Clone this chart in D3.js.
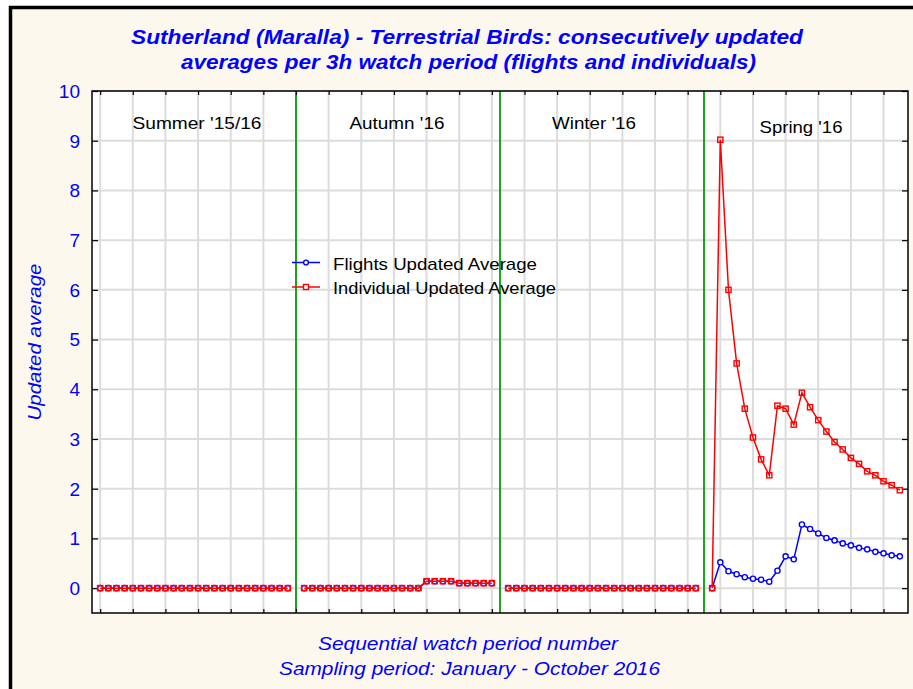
<!DOCTYPE html>
<html><head><meta charset="utf-8">
<script src="https://cdn.jsdelivr.net/npm/d3@7"></script>
<style>
html,body{margin:0;padding:0;background:#fff;}
text{font-family:"Liberation Sans",Arial,sans-serif;}
</style></head>
<body>
<svg id="chart" width="913" height="689"></svg>
<script>
// ---- data ----
const seasons = ["Summer '15/16", "Autumn '16", "Winter '16", "Spring '16"];
const flightsSummer = [0,0,0,0,0,0,0,0,0,0,0,0,0,0,0,0,0,0,0,0,0,0,0,0];
const individualsSummer = [0,0,0,0,0,0,0,0,0,0,0,0,0,0,0,0,0,0,0,0,0,0,0,0];
const flightsAutumn = [0,0,0,0,0,0,0,0,0,0,0,0,0,0,0,0.14,0.14,0.14,0.14,0.10,0.10,0.10,0.10,0.10];
const individualsAutumn = [0,0,0,0,0,0,0,0,0,0,0,0,0,0,0,0.14,0.14,0.14,0.14,0.10,0.10,0.10,0.10,0.10];
const flightsWinter = [0,0,0,0,0,0,0,0,0,0,0,0,0,0,0,0,0,0,0,0,0,0,0,0];
const individualsWinter = [0,0,0,0,0,0,0,0,0,0,0,0,0,0,0,0,0,0,0,0,0,0,0,0];
const flightsSpring = [0,0.52,0.34,0.28,0.22,0.19,0.17,0.13,0.35,0.64,0.58,1.28,1.19,1.10,1.01,0.96,0.90,0.86,0.81,0.78,0.73,0.70,0.66,0.64];
const individualsSpring = [0,9.02,6.0,4.52,3.61,3.03,2.59,2.27,3.67,3.61,3.29,3.93,3.64,3.38,3.15,2.94,2.79,2.62,2.50,2.35,2.27,2.15,2.07,1.97];
const yTicks = [0,1,2,3,4,5,6,7,8,9,10];
const xTicks = d3.range(0, 97, 4);
const seriesNames = ["Flights Updated Average", "Individual Updated Average"];

// build sequential series with a gap (season boundary) between seasons
function buildSeries(parts){
  const out = [];
  parts.forEach((arr, s) => {
    arr.forEach((v, i) => out.push({i: s*25 + i, v}));
    if (s < parts.length - 1) out.push({i: s*25 + 24, v: null});
  });
  return out;
}
const flights = buildSeries([flightsSummer, flightsAutumn, flightsWinter, flightsSpring]);
const individuals = buildSeries([individualsSummer, individualsAutumn, individualsWinter, individualsSpring]);
const boundaries = [24, 49, 74];

const svg = d3.select("#chart");
const L = 92, R = 908, T = 91, B = 613;
const x = d3.scaleLinear().domain([-1, 99]).range([L, R]);
const y = d3.scaleLinear().domain([-0.5, 10]).range([B, T]);

const BLUE = "#0000ff", RED = "#ff0000", GREEN = "#00a000";

// outer frame
svg.append("rect").attr("x", 10.5).attr("y", 7.5).attr("width", 960).attr("height", 760)
  .attr("fill", "#fdf8ee").attr("stroke", "#000").attr("stroke-width", 3.5);

// plot area
svg.append("rect").attr("x", L).attr("y", T).attr("width", R-L).attr("height", B-T).attr("fill", "#fff");

// grid
const grid = svg.append("g").attr("stroke", "#dcdcdc").attr("stroke-width", 2);
yTicks.forEach(t => grid.append("line").attr("x1", L).attr("x2", R).attr("y1", y(t)).attr("y2", y(t)));
xTicks.forEach(t => grid.append("line").attr("y1", T).attr("y2", B).attr("x1", x(t)).attr("x2", x(t)));

// season boundaries
boundaries.forEach(b => svg.append("line").attr("x1", x(b)).attr("x2", x(b)).attr("y1", T).attr("y2", B)
  .attr("stroke", GREEN).attr("stroke-width", 1.8));

// axes (inward ticks on all four sides)
svg.append("g").attr("transform", `translate(${L},0)`)
  .call(d3.axisRight(y).tickValues(yTicks).tickSize(6).tickFormat(""))
  .call(g => g.select(".domain").remove())
  .call(g => g.selectAll("line").attr("stroke", "#000").attr("stroke-width", 1.2));
svg.append("g").attr("transform", `translate(${R},0)`)
  .call(d3.axisLeft(y).tickValues(yTicks).tickSize(6).tickFormat(""))
  .call(g => g.select(".domain").remove())
  .call(g => g.selectAll("line").attr("stroke", "#000").attr("stroke-width", 1.2));
svg.append("g").attr("transform", `translate(0,${B})`)
  .call(d3.axisTop(x).tickValues(xTicks).tickSize(4).tickFormat(""))
  .call(g => g.select(".domain").remove())
  .call(g => g.selectAll("line").attr("stroke", "#000").attr("stroke-width", 1.2));
svg.append("g").attr("transform", `translate(0,${T})`)
  .call(d3.axisBottom(x).tickValues(xTicks).tickSize(4).tickFormat(""))
  .call(g => g.select(".domain").remove())
  .call(g => g.selectAll("line").attr("stroke", "#000").attr("stroke-width", 1.2));
svg.append("rect").attr("x", L).attr("y", T).attr("width", R-L).attr("height", B-T)
  .attr("fill", "none").attr("stroke", "#000").attr("stroke-width", 1.5);

// y tick labels
svg.append("g").selectAll("text").data(yTicks).join("text")
  .attr("x", 80).attr("y", d => y(d)).attr("dy", "0.36em").attr("text-anchor", "end")
  .attr("fill", BLUE).attr("font-size", 19).text(d => d);

// season labels
const seasonPos = [[197,129,129],[397,129,95],[594,129,84],[801,133,83]];
svg.append("g").selectAll("text").data(seasons).join("text")
  .attr("x", (d,i) => seasonPos[i][0]).attr("y", (d,i) => seasonPos[i][1])
  .attr("text-anchor", "middle").attr("font-size", 17).attr("fill", "#000")
  .attr("textLength", (d,i) => seasonPos[i][2]).attr("lengthAdjust", "spacingAndGlyphs")
  .text(d => d);

// lines
const line = d3.line().defined(d => d.v !== null).x(d => x(d.i)).y(d => y(d.v));
svg.append("path").datum(flights).attr("d", line).attr("fill", "none").attr("stroke", BLUE).attr("stroke-width", 1.5);
svg.append("g").selectAll("circle").data(flights.filter(d => d.v !== null)).join("circle")
  .attr("cx", d => x(d.i)).attr("cy", d => y(d.v)).attr("r", 2.6)
  .attr("fill", "#fff").attr("stroke", BLUE).attr("stroke-width", 1.4);
svg.append("path").datum(individuals).attr("d", line).attr("fill", "none").attr("stroke", RED).attr("stroke-width", 1.5);
svg.append("g").selectAll("rect").data(individuals.filter(d => d.v !== null)).join("rect")
  .attr("x", d => x(d.i) - 2.6).attr("y", d => y(d.v) - 2.6).attr("width", 5.2).attr("height", 5.2)
  .attr("fill", "none").attr("stroke", RED).attr("stroke-width", 1.4);

// legend
const legend = svg.append("g");
const legY = [262.5, 287];
const legW = [204, 223];
seriesNames.forEach((name, k) => {
  const col = k === 0 ? BLUE : RED;
  legend.append("line").attr("x1", 292).attr("x2", 320).attr("y1", legY[k]).attr("y2", legY[k])
    .attr("stroke", col).attr("stroke-width", 1.5);
  if (k === 0) legend.append("circle").attr("cx", 306).attr("cy", legY[k]).attr("r", 2.4)
    .attr("fill", "#fff").attr("stroke", col).attr("stroke-width", 1.4);
  else legend.append("rect").attr("x", 303.5).attr("y", legY[k]-2.5).attr("width", 5).attr("height", 5)
    .attr("fill", "#fff").attr("stroke", col).attr("stroke-width", 1.4);
  legend.append("text").attr("x", 333).attr("y", legY[k] + 7).attr("font-size", 17).attr("fill", "#000")
    .attr("textLength", legW[k]).attr("lengthAdjust", "spacingAndGlyphs").text(name);
});

// title
const title = svg.append("g").attr("fill", BLUE).attr("font-weight", "bold").attr("font-style", "italic").attr("font-size", 20);
title.append("text").attr("x", 467).attr("y", 44).attr("text-anchor", "middle")
  .attr("textLength", 672).attr("lengthAdjust", "spacingAndGlyphs")
  .text("Sutherland (Maralla) - Terrestrial Birds: consecutively updated");
title.append("text").attr("x", 468.5).attr("y", 69).attr("text-anchor", "middle")
  .attr("textLength", 575).attr("lengthAdjust", "spacingAndGlyphs")
  .text("averages per 3h watch period (flights and individuals)");

// axis titles
svg.append("text").attr("transform", "translate(41,342) rotate(-90)").attr("text-anchor", "middle")
  .attr("fill", BLUE).attr("font-style", "italic").attr("font-size", 18)
  .attr("textLength", 157).attr("lengthAdjust", "spacingAndGlyphs").text("Updated average");
svg.append("text").attr("x", 468).attr("y", 650).attr("text-anchor", "middle")
  .attr("fill", BLUE).attr("font-style", "italic").attr("font-size", 18)
  .attr("textLength", 300).attr("lengthAdjust", "spacingAndGlyphs").text("Sequential watch period number");
svg.append("text").attr("x", 469.5).attr("y", 675).attr("text-anchor", "middle")
  .attr("fill", BLUE).attr("font-style", "italic").attr("font-size", 18)
  .attr("textLength", 381).attr("lengthAdjust", "spacingAndGlyphs").text("Sampling period: January - October 2016");
</script>
</body></html>
